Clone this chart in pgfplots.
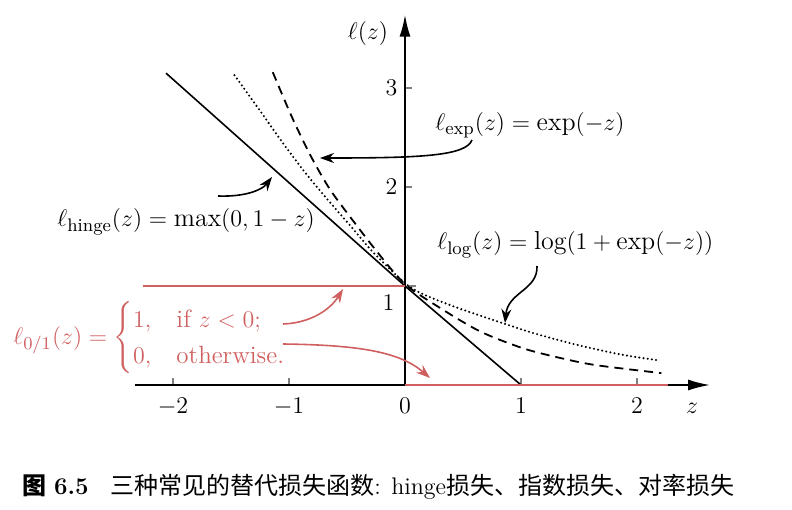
\documentclass[border=0pt]{standalone}
\usepackage{amsmath}
\usepackage{pgfplots}
\pgfplotsset{compat=1.18}
\usepackage{fontspec}
\newfontfamily\cjk{Noto Sans CJK SC}
\usetikzlibrary{arrows.meta}
\definecolor{redz}{RGB}{208,96,96}
\newcommand{\labfont}{\fontsize{13}{15.5}\selectfont}
\begin{document}
\begin{tikzpicture}
\useasboundingbox (0,0) rectangle (396pt,-254.5pt);
\begin{axis}[
  at={(202.5pt,-192.5pt)}, anchor=origin,
  x=58pt, y=49.5pt,
  xmin=-2.33, xmax=2.63, ymin=0, ymax=3.74,
  axis lines=middle,
  axis line style={line width=0.9pt, -{Latex[length=11pt,width=5.5pt]}},
  xtick={-2,-1,0,1,2},
  ytick={2,3},
  extra y ticks={1},
  extra y tick style={ytick style={xshift=1.75pt, line width=0.6pt}, yticklabel style={yshift=-8.5pt, xshift=-1.5pt}},
  hide obscured x ticks=false,
  hide obscured y ticks=false,
  major tick length=3.5pt,
  xtick style={yshift=1.75pt, line width=0.6pt},
  ytick style={xshift=1.75pt, line width=0.6pt},
  tick label style={font=\fontsize{12}{14}\selectfont},
  xticklabel style={yshift=-1pt},
  yticklabel style={xshift=1.5pt},
  clip=false,
]
% hinge
\addplot[black, line width=0.8pt] coordinates {(-2.06,3.15) (0,1) (1,0) (2.27,0)};
% 0/1 loss
\addplot[redz, line width=0.8pt] coordinates {(-2.26,1) (0,1)};
\addplot[redz, line width=0.9pt] coordinates {(0,0) (2.27,0)};
% exp (dashed)
\addplot[black, line width=0.9pt, smooth, dash pattern=on 4.5pt off 3pt] coordinates {
(-1.14,3.16) (-0.98,2.72) (-0.82,2.33) (-0.66,2.0) (-0.5,1.74) (-0.23,1.33) (0,1.02)
(0.30,0.78) (0.65,0.54) (1.02,0.37) (1.35,0.27) (1.65,0.20) (2.21,0.12)};
% log (dotted)
\addplot[black, line width=1.15pt, smooth, line cap=round, dash pattern=on 0pt off 2.1pt] coordinates {
(-1.47,3.13) (-1.25,2.77) (-1.05,2.44) (-0.85,2.13) (-0.65,1.85) (-0.45,1.58) (-0.29,1.36)
(-0.12,1.16) (0,1.03) (0.1,0.95) (0.25,0.87) (0.5,0.76) (0.88,0.61) (1.12,0.52)
(1.4,0.43) (1.65,0.36) (1.9,0.30) (2.18,0.25)};
\end{axis}
\begin{scope}[x=0.5pt,y=-0.5pt]
\node at (368,33) {\labfont $\ell(z)$};
\node at (692,408) {\labfont $z$};
\node at (530,125) {\labfont $\ell_{\exp}(z)=\exp(-z)$};
\node[anchor=west, inner sep=0pt] at (57,222) {\labfont $\ell_{\mathrm{hinge}}(z)=\max(0,1-z)$};
\node[anchor=west, inner sep=0pt] at (437,245) {\labfont $\ell_{\log}(z)=\log(1+\exp(-z))$};
\node[anchor=west, inner sep=0pt, text=redz] at (13,338) {\fontsize{12.5}{15}\selectfont $\ell_{0/1}(z)=\begin{cases}1, & \text{if } z<0;\\ 0, & \text{otherwise.}\end{cases}$};
\draw[line width=0.8pt, -{Stealth[length=7pt,width=5pt]}] (472,140) .. controls (466,156) and (420,158) .. (320,158);
\draw[line width=0.8pt, -{Stealth[length=7pt,width=5pt]}] (218,196) .. controls (245,197) and (262,190) .. (272,177);
\draw[line width=0.8pt, -{Stealth[length=7pt,width=5pt]}] (537,266) .. controls (538,290) and (508,292) .. (505,323);
\draw[redz, line width=0.8pt, -{Stealth[length=7pt,width=5pt]}] (283,324) .. controls (310,323) and (330,310) .. (343,289);
\draw[redz, line width=0.8pt, -{Stealth[length=7pt,width=5pt]}] (283,344) .. controls (360,345) and (400,352) .. (430,378);
\node[anchor=west, inner sep=0pt] at (22,487) {\fontsize{12}{14}\selectfont{\cjk\bfseries 图} \textbf{6.5}\hspace{0.9em}{\cjk 三种常见的替代损失函数}: hinge{\cjk 损失、指数损失、对率损失}};
\end{scope}
\end{tikzpicture}
\end{document}
